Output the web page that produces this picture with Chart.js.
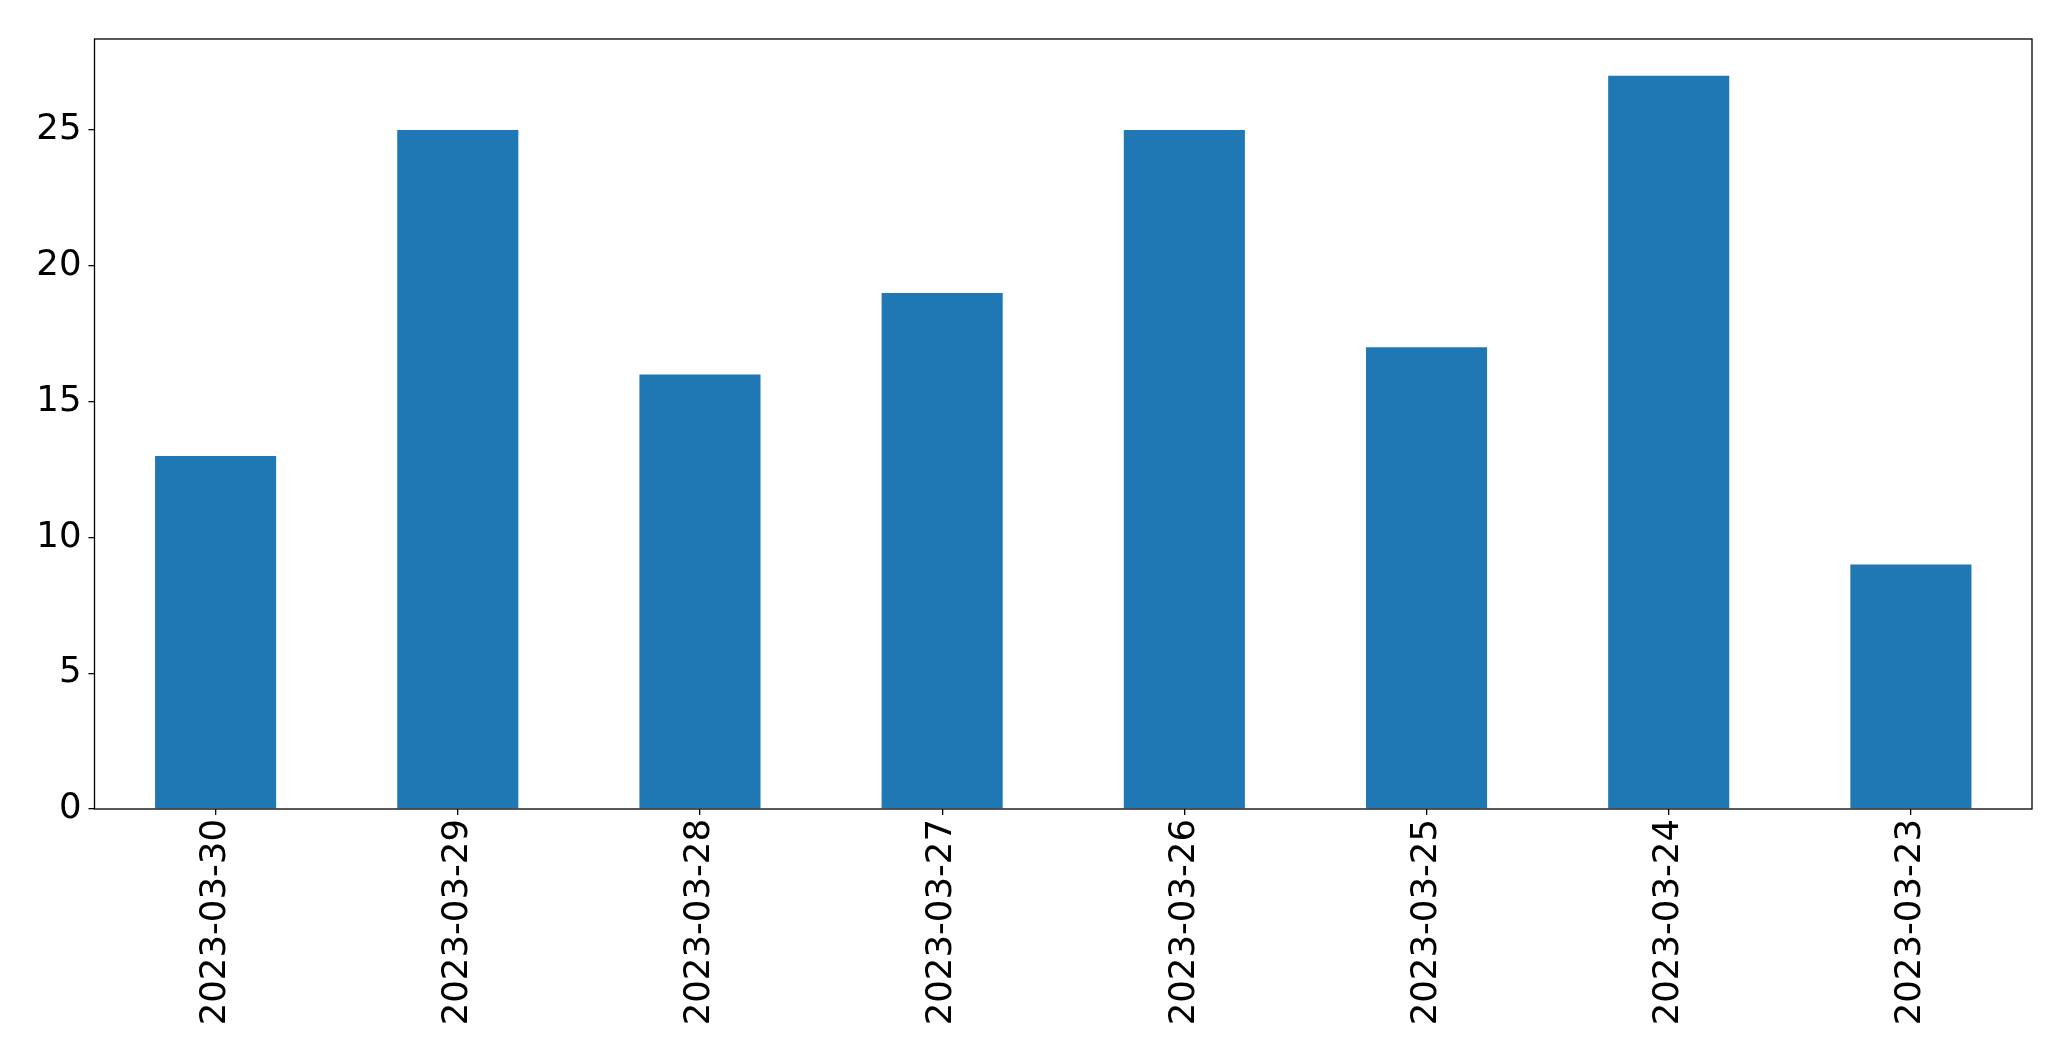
<!DOCTYPE html>
<html>
<head>
<meta charset="utf-8">
<script src="https://cdn.jsdelivr.net/npm/chart.js@4"></script>
<style>
  body { margin: 0; background: #fff; }
  canvas { display: block; }
</style>
</head>
<body>
<canvas id="myChart" width="2071" height="1061"></canvas>
<script>
const dates = ["2023-03-30", "2023-03-29", "2023-03-28", "2023-03-27", "2023-03-26", "2023-03-25", "2023-03-24", "2023-03-23"];
const counts = [13, 25, 16, 19, 25, 17, 27, 9];
const yTicks = [0, 5, 10, 15, 20, 25];

// frame around the plot area, like matplotlib's spines
const frame = {
    id: "frame",
    afterDatasetsDraw(chart) {
        const { ctx, chartArea: a } = chart;
        ctx.save();
        ctx.strokeStyle = "#000";
        ctx.lineWidth = 1.3;
        ctx.strokeRect(a.left, a.top, a.right - a.left, a.bottom - a.top);
        ctx.restore();
    }
};

document.addEventListener("DOMContentLoaded", function () {
    Chart.defaults.font.family = "'DejaVu Sans', sans-serif";
    Chart.defaults.color = "#000";

    new Chart(document.getElementById("myChart"), {
        type: "bar",
        data: {
            labels: dates,
            datasets: [{
                data: counts,
                backgroundColor: "#1f77b4",
                barPercentage: 0.5,
                categoryPercentage: 1.0
            }]
        },
        options: {
            responsive: false,
            animation: false,
            layout: { padding: { top: 39, right: 39, left: 0, bottom: 0 } },
            plugins: { legend: { display: false }, tooltip: { enabled: false } },
            scales: {
                x: {
                    grid: { display: true, offset: false, drawOnChartArea: false, tickLength: 6, color: "#000", lineWidth: 1.3 },
                    border: { display: false },
                    ticks: { font: { size: 35.5 }, minRotation: 90, maxRotation: 90, padding: 4, autoSkip: false },
                    afterFit: axis => { axis.height = 252; }
                },
                y: {
                    min: 0,
                    max: 28.35,
                    grid: { display: true, drawOnChartArea: false, tickLength: 6, color: "#000", lineWidth: 1.3 },
                    border: { display: false },
                    ticks: { font: { size: 35.5 }, padding: 7, stepSize: 5 },
                    afterBuildTicks: axis => { axis.ticks = yTicks.map(v => ({ value: v })); },
                    afterFit: axis => { axis.width = 94.5; }
                }
            }
        },
        plugins: [frame]
    });
});
</script>
</body>
</html>
